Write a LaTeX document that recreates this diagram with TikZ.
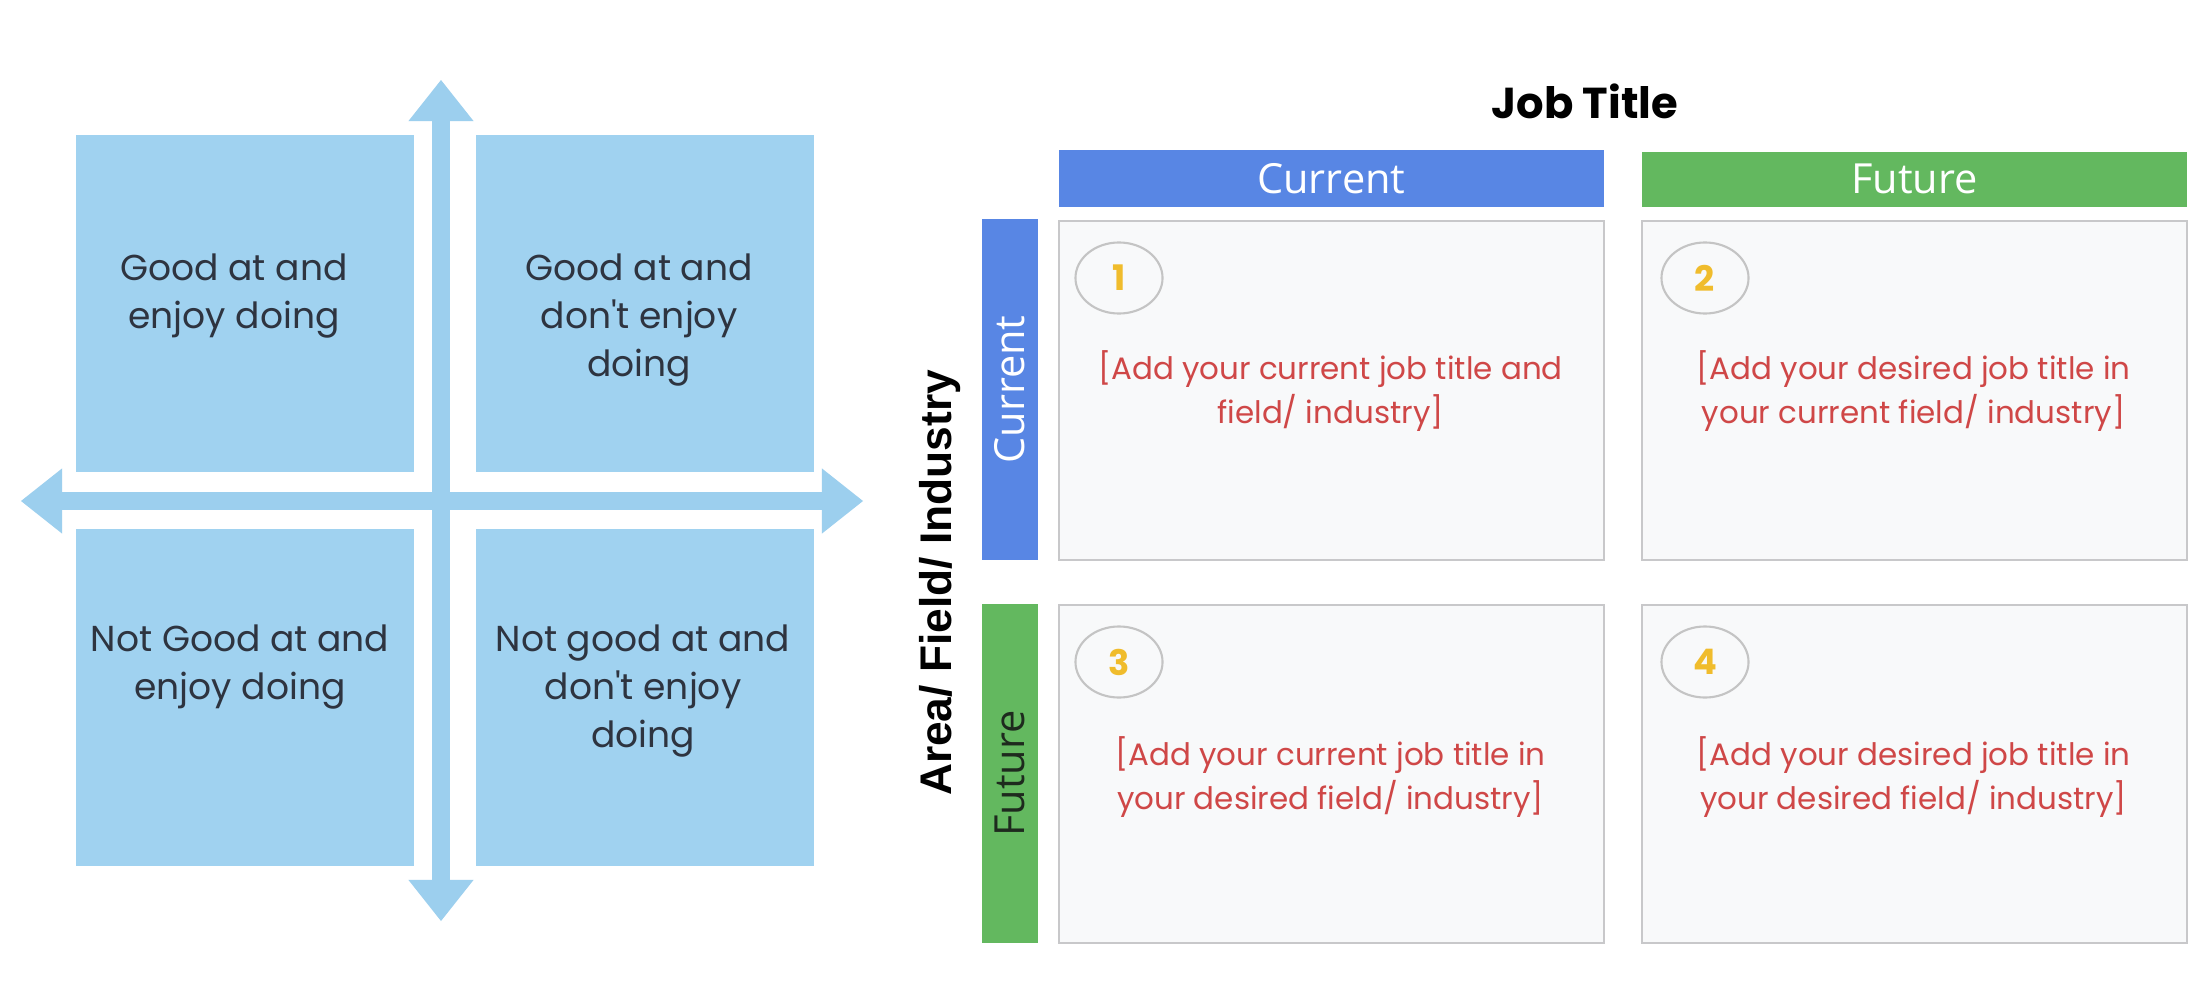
\documentclass[tikz,border=0pt]{standalone}
\usepackage{fontspec}
\setmainfont{Poppins}
\newfontfamily\opensans{Open Sans}
\newfontfamily\libsans{Liberation Sans}
\usetikzlibrary{arrows.meta,shapes.geometric}
\definecolor{qblue}{HTML}{A0D2F0}
\definecolor{axisblue}{HTML}{9CCFEE}
\definecolor{qtext}{HTML}{2E3440}
\definecolor{hblue}{HTML}{5886E4}
\definecolor{hgreen}{HTML}{63B85F}
\definecolor{cellfill}{HTML}{F8F9FA}
\definecolor{cellline}{HTML}{C8C8CA}
\definecolor{redtext}{HTML}{CF4747}
\definecolor{gold}{HTML}{F0BC2C}
\definecolor{circline}{HTML}{C4C4C4}
\definecolor{darktext}{HTML}{1E2A1E}
\begin{document}
\begin{tikzpicture}[x=0.01cm,y=-0.01cm,
  quad/.style={fill=qblue, draw=none, minimum width=3.38cm, minimum height=3.37cm, anchor=north west, inner sep=0},
  quadtext/.style={anchor=north, align=center, inner sep=0, text=qtext, font=\fontsize{10.25}{13.66}\selectfont},
  axis/.style={draw=axisblue, line width=0.18cm,
    {Triangle[length=0.41cm,width=0.65cm,line width=0pt]}-{Triangle[length=0.41cm,width=0.65cm,line width=0pt]}},
  hdr/.style={inner sep=0, text=white, font=\opensans\fontsize{11.8}{14}\selectfont},
  cellbox/.style={draw=cellline, fill=cellfill, line width=0.6pt, minimum width=5.45cm, anchor=north west, inner sep=0},
  num/.style={ellipse, draw=circline, line width=0.6pt, minimum width=0.87cm, minimum height=0.71cm, inner sep=0,
    text=gold, font=\bfseries\fontsize{10}{12}\selectfont},
  redtxt/.style={anchor=north, align=center, inner sep=0, text=redtext, font=\fontsize{8.8}{12.5}\selectfont}
]
\useasboundingbox[fill=white] (0,0) rectangle (2209,1000);

% ---------- left quadrant ----------
\node[quad] (tl) at (75,134) {};
\node[quad] (tr) at (475,134) {};
\node[quad] (bl) at (75,528) {};
\node[quad] (br) at (475,528) {};

\coordinate (vt) at (441,80);
\coordinate (vb) at (441,921);
\coordinate (hl) at (21,501);
\coordinate (hr) at (863,501);
\draw[axis] (vt) -- (vb);
\draw[axis] (hl) -- (hr);

\node[quadtext] (tltext) at (234,253) {Good at and\\enjoy doing};
\node[quadtext] (trtext) at (639,253) {Good at and\\don\textquotesingle t enjoy\\doing};
\node[quadtext] (bltext) at (240,624) {Not Good at and\\enjoy doing};
\node[quadtext] (brtext) at (643,624) {Not good at and\\don\textquotesingle t enjoy\\doing};

% ---------- right grid ----------
\node[anchor=base, inner sep=0, font=\bfseries\fontsize{12.3}{14}\selectfont] (jobtitle) at (1585,118) {Job Title};

\node[hdr, fill=hblue, anchor=north west, minimum width=5.45cm, minimum height=0.57cm] (hcur) at (1058,149) {Current};
\node[hdr, fill=hgreen, anchor=north west, minimum width=5.45cm, minimum height=0.55cm] (hfut) at (1641,151) {Future};

\node[hdr, fill=hblue, rotate=90, minimum width=3.41cm, minimum height=0.56cm] (scur) at (1010,389.5) {Current};
\node[hdr, fill=hgreen, text=darktext, rotate=90, minimum width=3.39cm, minimum height=0.56cm] (sfut) at (1010,773.5) {Future};

\node[rotate=90, inner sep=0, font=\libsans\bfseries\fontsize{12.6}{15}\selectfont] (area) at (940,583) {Area/ Field/ Industry};

\node[cellbox, minimum height=3.39cm] (c1) at (1058,220) {};
\node[cellbox, minimum height=3.39cm] (c2) at (1641,220) {};
\node[cellbox, minimum height=3.38cm] (c3) at (1058,604) {};
\node[cellbox, minimum height=3.38cm] (c4) at (1641,604) {};

\node[num] (n1) at (1119,278) {1};
\node[num] (n2) at (1705,278) {2};
\node[num] (n3) at (1119,662) {3};
\node[num] (n4) at (1705,662) {4};

\node[redtxt] (t1) at (1330.5,350) {[Add your current job title and\\field/ industry]};
\node[redtxt] (t2) at (1913.5,350) {[Add your desired job title in\\your current field/ industry]};
\node[redtxt] (t3) at (1330.5,736) {[Add your current job title in\\your desired field/ industry]};
\node[redtxt] (t4) at (1913.5,736) {[Add your desired job title in\\your desired field/ industry]};
\end{tikzpicture}
\end{document}
